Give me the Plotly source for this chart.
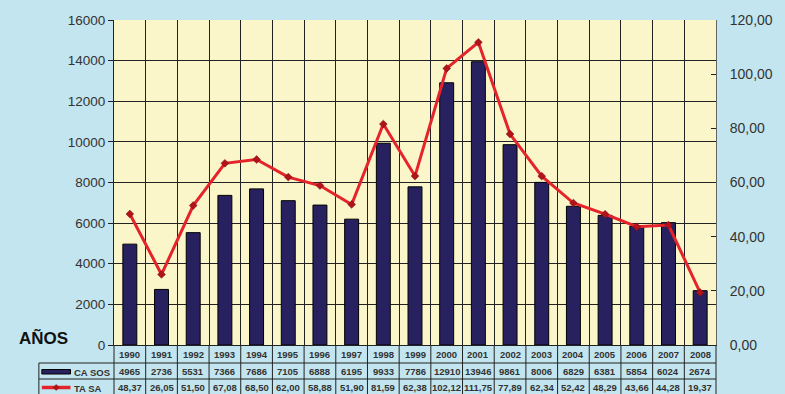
import plotly.graph_objects as go

# Annual data
years = ["1990", "1991", "1992", "1993", "1994", "1995", "1996", "1997", "1998", "1999",
         "2000", "2001", "2002", "2003", "2004", "2005", "2006", "2007", "2008"]
casos = [4965, 2736, 5531, 7366, 7686, 7105, 6888, 6195, 9933, 7786,
         12910, 13946, 9861, 8006, 6829, 6381, 5854, 6024, 2674]
tasa = [48.37, 26.05, 51.50, 67.08, 68.50, 62.00, 58.88, 51.90, 81.59, 62.38,
        102.12, 111.75, 77.89, 62.34, 52.42, 48.29, 43.66, 44.28, 19.37]
tasa_labels = ["48,37", "26,05", "51,50", "67,08", "68,50", "62,00", "58,88", "51,90", "81,59", "62,38",
               "102,12", "111,75", "77,89", "62,34", "52,42", "48,29", "43,66", "44,28", "19,37"]

BG = "#c3e5ef"
PLOT_BG = "#faf6c9"
NAVY = "#27225f"
RED = "#e5232a"
TXT = "#333333"
FONT = "Liberation Sans"

W, H = 785, 394
L, R, T, B = 114, 62, 20, 49
PW, PH = W - L - R, H - T - B
n = len(years)


def px_x(px):
    return (px - L) / PW


def px_y(py):
    return (H - B - py) / PH


fig = go.Figure()

fig.add_trace(go.Bar(
    x=years, y=casos, name="CASOS", width=0.44,
    marker=dict(color=NAVY, line=dict(color="#000000", width=1)),
    yaxis="y",
))
fig.add_trace(go.Scatter(
    x=years, y=tasa, name="TASA", mode="lines+markers",
    line=dict(color=RED, width=3),
    marker=dict(symbol="diamond", size=6, color="#b0141a", line=dict(color="#7a0c10", width=0.5)),
    yaxis="y2",
))

shapes = []
line_style = dict(color="#222222", width=1)

# table grid below the plot
y_top = px_y(345)
y_r1 = px_y(363)
y_r2 = px_y(379)
y_bot = px_y(394)
x_left = px_x(38)
for k in range(n + 1):
    xp = k / n
    shapes.append(dict(type="line", xref="paper", yref="paper", x0=xp, x1=xp,
                       y0=y_top, y1=y_bot, line=line_style))
shapes.append(dict(type="line", xref="paper", yref="paper", x0=x_left, x1=1,
                   y0=y_r1, y1=y_r1, line=line_style))
shapes.append(dict(type="line", xref="paper", yref="paper", x0=x_left, x1=1,
                   y0=y_r2, y1=y_r2, line=line_style))
shapes.append(dict(type="line", xref="paper", yref="paper", x0=x_left, x1=x_left,
                   y0=y_r1, y1=y_bot, line=line_style))

# legend keys inside the table
shapes.append(dict(type="rect", xref="paper", yref="paper",
                   x0=px_x(41), x1=px_x(70), y0=px_y(374), y1=px_y(369.5),
                   fillcolor=NAVY, line=dict(color="#000000", width=1)))
shapes.append(dict(type="line", xref="paper", yref="paper",
                   x0=px_x(41), x1=px_x(70), y0=px_y(387.5), y1=px_y(387.5),
                   line=dict(color=RED, width=3.5)))
cx, cy = 55.5, 387.5
shapes.append(dict(type="path", xref="paper", yref="paper",
                   path=f"M {px_x(cx-3)} {px_y(cy)} L {px_x(cx)} {px_y(cy-3)} "
                        f"L {px_x(cx+3)} {px_y(cy)} L {px_x(cx)} {px_y(cy+3)} Z",
                   fillcolor="#b0141a", line=dict(color="#7a0c10", width=0.5)))

annotations = []
cell_font = dict(family=FONT, size=9.5, color=TXT)
for i, yr in enumerate(years):
    xc = (i + 0.5) / n
    annotations.append(dict(x=xc, y=px_y(354), xref="paper", yref="paper", text=f"<b>{yr}</b>",
                            showarrow=False, font=cell_font, xanchor="center", yanchor="middle"))
    annotations.append(dict(x=xc, y=px_y(371.5), xref="paper", yref="paper", text=f"<b>{casos[i]}</b>",
                            showarrow=False, font=cell_font, xanchor="center", yanchor="middle"))
    annotations.append(dict(x=xc, y=px_y(387), xref="paper", yref="paper", text=f"<b>{tasa_labels[i]}</b>",
                            showarrow=False, font=cell_font, xanchor="center", yanchor="middle"))

annotations.append(dict(x=px_x(72), y=px_y(372), xref="paper", yref="paper", text="<b>CA SOS</b>",
                        showarrow=False, font=dict(family=FONT, size=9.5, color=TXT),
                        xanchor="left", yanchor="middle"))
annotations.append(dict(x=px_x(72), y=px_y(388), xref="paper", yref="paper", text="<b>TA SA</b>",
                        showarrow=False, font=dict(family=FONT, size=9.5, color=TXT),
                        xanchor="left", yanchor="middle"))
annotations.append(dict(x=px_x(42.5), y=px_y(338), xref="paper", yref="paper", text="<b>AÑOS</b>",
                        showarrow=False, font=dict(family=FONT, size=17, color="#111111"),
                        xanchor="center", yanchor="middle"))

fig.update_layout(
    width=W, height=H,
    margin=dict(l=L, r=R, t=T, b=B, pad=0),
    paper_bgcolor=BG, plot_bgcolor=PLOT_BG,
    separators=",.",
    showlegend=False,
    bargap=0.5,
    font=dict(family=FONT, size=13, color=TXT),
    xaxis=dict(
        type="category", range=[-0.5, n - 0.5], tickson="boundaries", showgrid=True,
        gridcolor="#222222", gridwidth=1, showticklabels=False, ticks="",
        showline=True, linecolor="#222222", linewidth=1, mirror=False,
        zeroline=False,
    ),
    yaxis=dict(
        range=[0, 16000], dtick=2000, tickformat="d",
        showgrid=True, gridcolor="#222222", gridwidth=1,
        ticks="outside", ticklen=5, tickcolor="#222222",
        showline=True, linecolor="#222222", linewidth=1,
        zeroline=False, tickfont=dict(family=FONT, size=13.5, color=TXT),
    ),
    yaxis2=dict(
        range=[0, 120], dtick=20, tickformat=".2f", overlaying="y", side="right",
        showgrid=False, ticks="inside", ticklen=5, tickcolor="#222222",
        showline=True, linecolor="#666666", linewidth=1,
        zeroline=False, tickfont=dict(family=FONT, size=14, color=TXT),
        ticklabelstandoff=10,
    ),
    shapes=shapes,
    annotations=annotations,
)

fig.write_html("out.html")
